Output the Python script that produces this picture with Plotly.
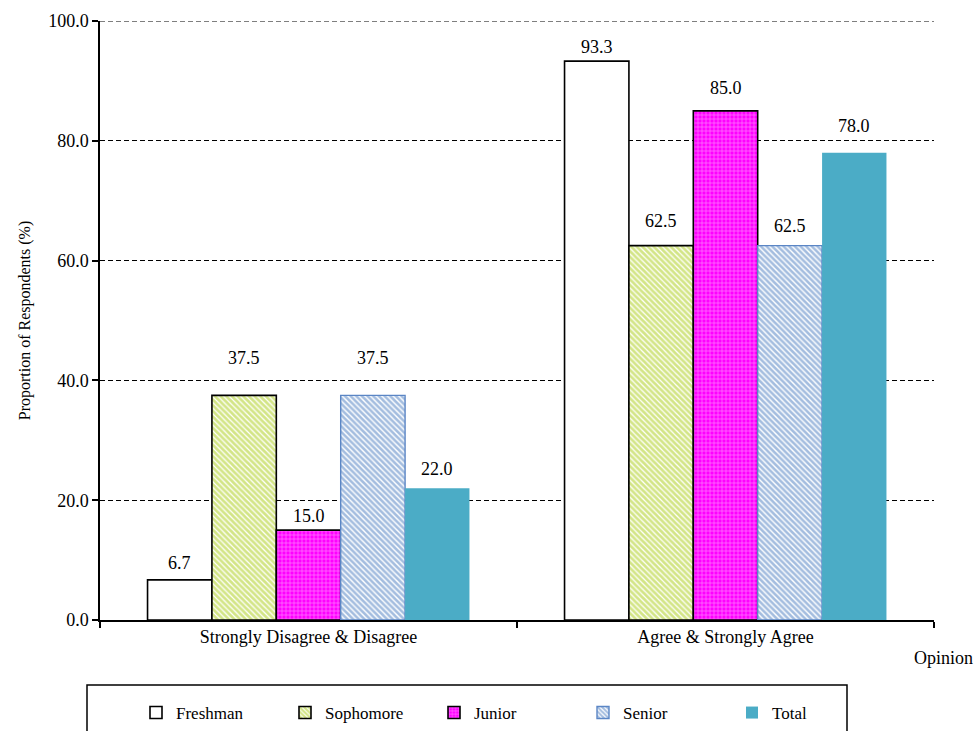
import plotly.graph_objects as go

# Survey responses by class year
categories = ["Strongly Disagree & Disagree", "Agree & Strongly Agree"]
series_names = ["Freshman", "Sophomore", "Junior", "Senior", "Total"]
freshman = [6.7, 93.3]
sophomore = [37.5, 62.5]
junior = [15.0, 85.0]
senior = [37.5, 62.5]
total = [22.0, 78.0]
values = [freshman, sophomore, junior, senior, total]

# Styling per series
fills = ["#ffffff", "#ffffff", "#ff00ff", "#ffffff", "#4bacc6"]
pattern_shapes = ["", "\\", "+", "\\", ""]
pattern_fg = ["#000000", "#a8cc10", "#ffffff", "#4a7cc0", "#4bacc6"]
pattern_solidity = [0.3, 0.7, 0.3, 0.65, 0.3]
outline_colors = ["#000000", "#000000", "#000000", "#5b86c5", "#4bacc6"]
outline_widths = [1.6, 1.6, 1.6, 1.4, 0]

# Distance (px) from each bar top to the centre of its value label
label_lift = [[17, 14], [37, 25], [14, 23], [37, 20], [19, 27]]

W, H = 978, 731
M = dict(l=100, r=44, t=21, b=111, autoexpand=False)
BARGAP = 0.228
FONT = "Liberation Serif, Times New Roman, serif"

fig = go.Figure()
for i, name in enumerate(series_names):
    fig.add_trace(go.Bar(
        name=name,
        x=categories,
        y=values[i],
        marker=dict(
            color=fills[i],
            line=dict(color=outline_colors[i], width=outline_widths[i]),
            pattern=dict(shape=pattern_shapes[i], fgcolor=pattern_fg[i],
                         bgcolor=fills[i], size=4,
                         solidity=pattern_solidity[i]),
        ),
    ))

# Value labels above bars
plot_w = W - M["l"] - M["r"]
plot_h = H - M["t"] - M["b"]
bar_w = plot_w / len(categories) * (1 - BARGAP) / len(series_names)
annotations = []
for i, name in enumerate(series_names):
    for j, cat in enumerate(categories):
        annotations.append(dict(
            x=cat, y=values[i][j], xref="x", yref="y",
            text=f"{values[i][j]:.1f}", showarrow=False,
            xshift=(i - (len(series_names) - 1) / 2) * bar_w,
            yshift=label_lift[i][j], yanchor="middle",
            font=dict(family=FONT, size=18, color="#000000"),
        ))

annotations.append(dict(
    x=(975 - M["l"]) / plot_w, y=-(658 - (H - M["b"])) / plot_h,
    xref="paper", yref="paper", text="Opinion",
    showarrow=False, xanchor="right", yanchor="middle",
    font=dict(family=FONT, size=18, color="#000000"),
))

fig.update_layout(
    width=W, height=H, margin=M,
    paper_bgcolor="#ffffff", plot_bgcolor="#ffffff",
    barmode="group", bargap=BARGAP, bargroupgap=0,
    font=dict(family=FONT, size=17, color="#000000"),
    annotations=annotations,
    showlegend=True,
    legend=dict(
        orientation="h", x=(136 - M["l"]) / plot_w, xanchor="left",
        y=-(713 - (H - M["b"])) / plot_h, yanchor="middle",
        font=dict(family=FONT, size=17), entrywidth=104, itemwidth=30,
        bgcolor="rgba(0,0,0,0)", traceorder="normal",
    ),
    shapes=[
        # legend frame
        dict(type="rect", xref="paper", yref="paper",
             x0=(87 - M["l"]) / plot_w, x1=(847 - M["l"]) / plot_w,
             y0=-(685 - (H - M["b"])) / plot_h,
             y1=-(740 - (H - M["b"])) / plot_h,
             line=dict(color="#000000", width=1.5),
             fillcolor="rgba(0,0,0,0)"),
        # dashed gridline at the top of the value axis
        dict(type="line", xref="paper", yref="y", x0=0, x1=1, y0=100, y1=100,
             line=dict(color="#000000", width=1, dash="5px,3px"),
             layer="below"),
    ],
)

fig.update_xaxes(
    showline=True, linecolor="#000000", linewidth=1.5,
    ticks="outside", ticklen=6, tickcolor="#000000", tickwidth=1.5,
    tickson="boundaries", showgrid=False,
    tickfont=dict(family=FONT, size=18),
)
fig.update_yaxes(
    range=[0, 100], dtick=20, tickformat=".1f",
    showline=True, linecolor="#000000", linewidth=1.5,
    ticks="outside", ticklen=6, tickcolor="#000000", tickwidth=1.5,
    showgrid=True, gridcolor="#000000", gridwidth=1, griddash="5px,3px",
    zeroline=False,
    tickfont=dict(family=FONT, size=18),
    title=dict(text="Proportion of Respondents (%)", standoff=14,
               font=dict(family=FONT, size=16)),
)

fig.write_html("out.html")
